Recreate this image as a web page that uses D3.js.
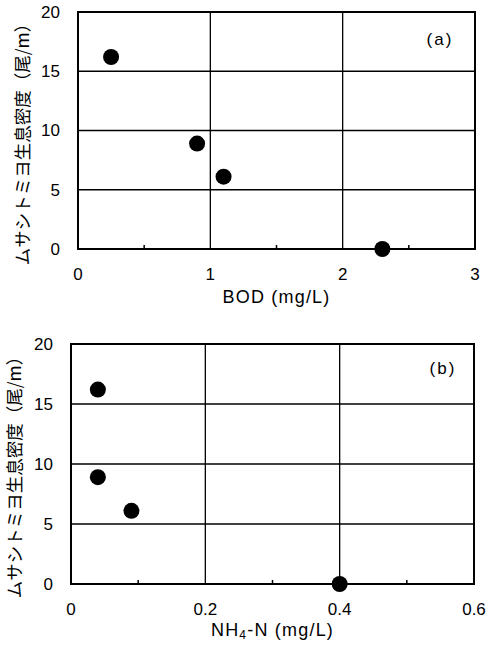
<!DOCTYPE html>
<html>
<head>
<meta charset="utf-8">
<script src="https://cdn.jsdelivr.net/npm/d3@7"></script>
<style>
  body { margin: 0; background: #fff; }
  svg { display: block; }
  text { fill: #000; }
</style>
</head>
<body>
<svg id="chart" width="487" height="648"></svg>
<script>
// Data
const densityValues = [16.2, 8.9, 6.1, 0];   // ムサシトミヨ生息密度 (尾/m)
const bodValues = [0.25, 0.9, 1.1, 2.3];     // BOD (mg/L)
const nh4Values = [0.04, 0.04, 0.09, 0.4];   // NH4-N (mg/L)

const yTicks = [0, 5, 10, 15, 20];
const bodTicks = [0, 1, 2, 3];
const bodMinorTicks = [0.5, 1.5, 2.5];
const nh4Ticks = [0, 0.2, 0.4, 0.6];
const nh4MinorTicks = [0.1, 0.3, 0.5];

const yLabel = 'ムサシトミヨ生息密度（尾/m）';
const numFont = '"Liberation Sans", Arial, sans-serif';
const cjkFont = '"Noto Sans CJK JP", "Liberation Sans", sans-serif';

const svg = d3.select('#chart');

/**
 * Draws one scatter panel with grid, border and labels.
 */
function drawPanel(cfg) {
    const g = svg.append('g');
    const x = d3.scaleLinear().domain(cfg.xDomain).range([cfg.left, cfg.right]);
    const y = d3.scaleLinear().domain([0, 20]).range([cfg.bottom, cfg.top]);

    // Grid lines
    g.selectAll('.hgrid')
        .data(yTicks.slice(1, -1))
        .join('line')
        .attr('x1', cfg.left).attr('x2', cfg.right)
        .attr('y1', (d) => y(d)).attr('y2', (d) => y(d))
        .attr('stroke', '#000').attr('stroke-width', 1.3);
    g.selectAll('.vgrid')
        .data(cfg.xTicks.slice(1, -1))
        .join('line')
        .attr('x1', (d) => x(d)).attr('x2', (d) => x(d))
        .attr('y1', cfg.top).attr('y2', cfg.bottom)
        .attr('stroke', '#000').attr('stroke-width', 1.3);

    // Minor ticks pointing inward from the bottom axis
    g.selectAll('.minor')
        .data(cfg.minorTicks)
        .join('line')
        .attr('x1', (d) => x(d)).attr('x2', (d) => x(d))
        .attr('y1', cfg.bottom).attr('y2', cfg.bottom - 4)
        .attr('stroke', '#000').attr('stroke-width', 1.5);

    // Border
    g.append('rect')
        .attr('x', cfg.left).attr('y', cfg.top)
        .attr('width', cfg.right - cfg.left).attr('height', cfg.bottom - cfg.top)
        .attr('fill', 'none').attr('stroke', '#000').attr('stroke-width', 2);

    // Tick labels
    g.selectAll('.ylab')
        .data(yTicks)
        .join('text')
        .attr('x', cfg.left - cfg.yLabelGap).attr('y', (d) => y(d))
        .attr('dy', '0.35em').attr('text-anchor', 'end')
        .style('font', `17px ${numFont}`)
        .text((d) => d);
    g.selectAll('.xlab')
        .data(cfg.xTicks)
        .join('text')
        .attr('x', (d) => x(d)).attr('y', cfg.bottom + 25)
        .attr('dy', '0.35em').attr('text-anchor', 'middle')
        .style('font', `17px ${numFont}`)
        .text((d) => d);

    // Points
    g.selectAll('circle')
        .data(densityValues.map((v, i) => [cfg.xValues[i], v]))
        .join('circle')
        .attr('cx', (d) => x(d[0])).attr('cy', (d) => y(d[1]))
        .attr('r', 8).attr('fill', '#000');

    // Panel tag
    g.append('text')
        .attr('x', cfg.tagX).attr('y', cfg.top + cfg.tagDy)
        .attr('dy', '0.35em').attr('text-anchor', 'middle')
        .style('font', `17px ${numFont}`).style('letter-spacing', '2px')
        .text(cfg.tag);

    // Axis titles
    const xt = g.append('text')
        .attr('x', (cfg.left + cfg.right) / 2).attr('y', cfg.bottom + cfg.xTitleDy)
        .attr('dy', '0.35em').attr('text-anchor', 'middle')
        .style('font', `18px ${numFont}`).style('letter-spacing', '1.2px');
    cfg.xTitle(xt);

    g.append('text')
        .attr('transform', `translate(${cfg.yTitleX}, ${cfg.yTitleY}) rotate(-90)`)
        .attr('dy', '0.35em').attr('text-anchor', 'middle')
        .style('font', `17.5px ${cjkFont}`)
        .text(yLabel);
}

drawPanel({
    left: 78, right: 475, top: 12, bottom: 249,
    xDomain: [0, 3], xTicks: bodTicks, minorTicks: bodMinorTicks,
    xValues: bodValues, yLabelGap: 18,
    tag: '(a)', tagX: 440, tagDy: 27,
    xTitleDy: 48, yTitleX: 23, yTitleY: 140,
    xTitle: (t) => t.text('BOD (mg/L)')
});

drawPanel({
    left: 71, right: 474, top: 344, bottom: 584,
    xDomain: [0, 0.6], xTicks: nh4Ticks, minorTicks: nh4MinorTicks,
    xValues: nh4Values, yLabelGap: 18,
    tag: '(b)', tagX: 443, tagDy: 24,
    xTitleDy: 46, yTitleX: 15, yTitleY: 473,
    xTitle: (t) => {
        t.append('tspan').text('NH');
        t.append('tspan').attr('baseline-shift', '-25%').style('font-size', '12px').text('4');
        t.append('tspan').text('-N (mg/L)');
    }
});
</script>
</body>
</html>
